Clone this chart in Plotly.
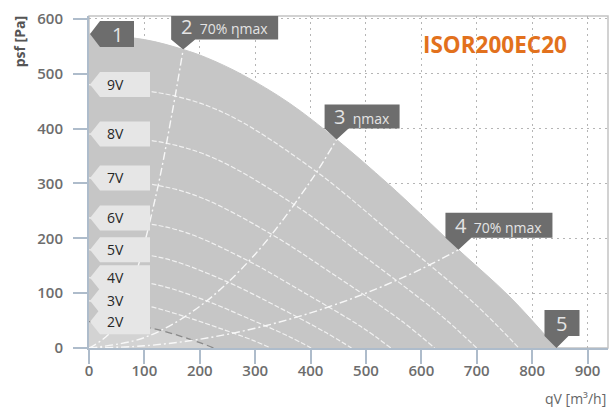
import plotly.graph_objects as go

# ---------------- data ----------------
# maximum characteristic (points 1 -> 5)
max_q = [0, 100, 170, 212, 277, 362, 447, 539, 600, 667, 760, 844]
max_p = [572, 562, 544, 529, 498, 446, 380, 300, 243, 179, 93, 0]

# operating points on the max curve
point_q = [0, 170, 447, 667, 844]
point_p = [572, 544, 380, 179, 0]
point_num = ["1", "2", "3", "4", "5"]
point_sub = ["", "70% ηmax", "ηmax", "70% ηmax", ""]

# speed (control voltage) curves
speed_names = ["9V", "8V", "7V", "6V", "5V", "4V", "3V", "2V"]
v9_q = [0, 156, 255, 411, 551, 698, 776]
v9_p = [480, 459, 423, 321, 205, 79, 0]
v8_q = [0, 141, 230, 371, 497, 630, 700]
v8_p = [390, 373, 344, 261, 167, 64, 0]
v7_q = [0, 126, 205, 330, 443, 562, 624]
v7_p = [310, 296, 273, 207, 133, 51, 0]
v6_q = [0, 110, 179, 289, 388, 491, 545]
v6_p = [237, 226, 209, 158, 101, 39, 0]
v5_q = [0, 95, 155, 251, 337, 426, 474]
v5_p = [179, 171, 158, 120, 77, 29, 0]
v4_q = [0, 81, 132, 212, 285, 361, 401]
v4_p = [128, 122, 113, 86, 55, 21, 0]
v3_q = [0, 66, 108, 174, 233, 296, 328]
v3_p = [86, 82, 76, 57, 37, 14, 0]
v2_q = [0, 49, 80, 130, 170, 205, 225]
v2_p = [48, 46, 42, 32, 20, 8, 0]
speed_q = [v9_q, v8_q, v7_q, v6_q, v5_q, v4_q, v3_q, v2_q]
speed_p = [v9_p, v8_p, v7_p, v6_p, v5_p, v4_p, v3_p, v2_p]

# efficiency (system) curves
eff70a_q = [0, 40, 80, 120, 150, 170]
eff70a_p = [0, 30, 122, 274, 428, 544]
effmax_q = [0, 100, 200, 300, 400, 447]
effmax_p = [0, 19, 76, 171, 304, 380]
eff70b_q = [0, 100, 200, 300, 400, 500, 600, 667]
eff70b_p = [0, 4, 16, 36, 64, 100, 144, 179]

x_ticks = [0, 100, 200, 300, 400, 500, 600, 700, 800, 900]
y_ticks = [0, 100, 200, 300, 400, 500, 600]

# ---------------- figure ----------------
FONT = "Open Sans"
fig = go.Figure()

fig.add_trace(go.Scatter(x=max_q, y=max_p, mode="lines", line=dict(color="#c6c6c6", width=1, shape="spline", smoothing=1.0),
                         fill="tozeroy", fillcolor="#c6c6c6", hoverinfo="skip"))
fig.add_trace(go.Scatter(x=v2_q, y=v2_p, mode="lines", line=dict(color="rgba(0,0,0,0)", width=0, shape="spline"),
                         fill="tozeroy", fillcolor="#d3d3d3", hoverinfo="skip"))

for q, p in zip(speed_q[:-1], speed_p[:-1]):
    fig.add_trace(go.Scatter(x=q, y=p, mode="lines",
                             line=dict(color="rgba(245,245,245,0.9)", width=1.2, dash="5px,2px", shape="spline"),
                             hoverinfo="skip"))
fig.add_trace(go.Scatter(x=v2_q, y=v2_p, mode="lines",
                         line=dict(color="#8a8a8a", width=1.3, dash="7px,4px", shape="spline"), hoverinfo="skip"))

for q, p in [(eff70a_q, eff70a_p), (effmax_q, effmax_p), (eff70b_q, eff70b_p)]:
    fig.add_trace(go.Scatter(x=q, y=p, mode="lines",
                             line=dict(color="rgba(250,250,250,0.95)", width=1.4, dash="8px,3px,2px,3px", shape="spline"),
                             hoverinfo="skip"))

shapes = []
annotations = []

# speed labels (light call-outs pointing left)
for name, q, p in zip(speed_names, speed_q, speed_p):
    shapes.append(dict(type="path", xref="x", yref="y", xsizemode="pixel", ysizemode="pixel",
                       xanchor=q[0], yanchor=p[0],
                       path="M1,0 L11,12.5 L61,12.5 L61,-12.5 L11,-12.5 Z",
                       fillcolor="#e6e6e6", line=dict(width=0), layer="above"))
    annotations.append(dict(x=q[0], y=p[0], xref="x", yref="y", text=name, showarrow=False,
                            xanchor="left", yanchor="middle", xshift=16, yshift=0,
                            font=dict(family=FONT, size=14, color="#262626")))

# point call-outs (dark)
paths = {
    "1": ("M1,0 L11,13 L45,13 L45,-13 L11,-13 Z", 28, 0),
    "2": ("M0,0 L-12,10 L-12,35 L95,35 L95,10 L12,10 Z", 41.5, 22.5),
    "3": ("M0,0 L-12,11 L-12,35 L63,35 L63,11 L12,11 Z", 25.5, 23),
    "4": ("M0,0 L-13,12 L-13,37 L94,37 L94,12 L13,12 Z", 40.5, 24.5),
    "5": ("M0,0 L-12,12 L-12,38 L23,38 L23,12 L12,12 Z", 5.5, 25),
}
for num, sub, q, p in zip(point_num, point_sub, point_q, point_p):
    path, xs, ys = paths[num]
    shapes.append(dict(type="path", xref="x", yref="y", xsizemode="pixel", ysizemode="pixel",
                       xanchor=q, yanchor=p, path=path,
                       fillcolor="#6d6d6d", line=dict(width=0), layer="above"))
    txt = "<span style='font-size:20px'>%s</span>" % num
    if sub:
        txt += "  " + sub
    annotations.append(dict(x=q, y=p, xref="x", yref="y", text=txt, showarrow=False,
                            xanchor="center", yanchor="middle", xshift=xs, yshift=ys,
                            font=dict(family=FONT, size=14, color="#e4e4e4")))

# frame
shapes.append(dict(type="rect", xref="paper", yref="paper", x0=0, x1=1, y0=0, y1=1,
                   line=dict(color="#c4c4c4", width=1.5), layer="below"))

annotations += [
    dict(xref="paper", yref="paper", x=0.782, y=0.915, text="<b>ISOR200EC20</b>", showarrow=False,
         xanchor="center", yanchor="middle", font=dict(family=FONT, size=22.5, color="#e2711d")),
    dict(xref="paper", yref="paper", x=-0.134, y=0.922, text="<b>psf [Pa]</b>", showarrow=False, textangle=-90,
         xanchor="center", yanchor="middle", font=dict(family=FONT, size=14, color="#555555")),
    dict(xref="paper", yref="paper", x=0.937, y=-0.152, text="qV [m³/h]", showarrow=False,
         xanchor="center", yanchor="middle", font=dict(family=FONT, size=14, color="#666666")),
]

axis_common = dict(showline=True, linecolor="#aebccb", linewidth=2, ticks="outside", ticklen=14,
                   tickwidth=2, tickcolor="#aebccb", showgrid=True, gridcolor="#b5b5b5", gridwidth=1.2,
                   griddash="2px,4px", zeroline=False, automargin=False,
                   tickfont=dict(family=FONT, size=15, color="#6d6d6d", weight=600))

fig.update_xaxes(range=[0, 937], tickvals=x_ticks, ticktext=[str(v) for v in x_ticks], ticklabelstandoff=-6,
                 **axis_common)
fig.update_yaxes(range=[0, 605], tickvals=y_ticks, ticktext=[str(v) for v in y_ticks], ticklabelstandoff=7,
                 **axis_common)

fig.update_layout(width=611, height=407, margin=dict(l=89, r=3, t=16, b=59),
                  plot_bgcolor="white", paper_bgcolor="white", showlegend=False,
                  shapes=shapes, annotations=annotations, font=dict(family=FONT))

fig.write_html("out.html", config={"displayModeBar": False},
               post_script="document.body.style.margin='0px';document.body.style.overflow='hidden';")
